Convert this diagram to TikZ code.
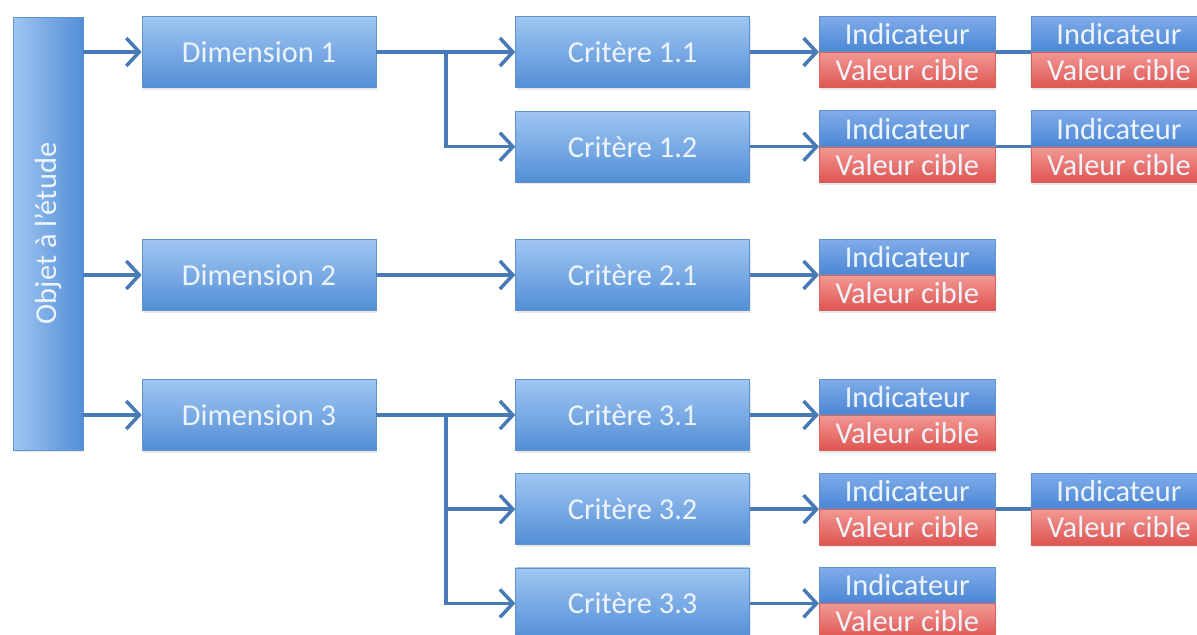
\documentclass[tikz,border=0pt]{standalone}
\usepackage{fontspec}
\usepackage{graphicx}
\setmainfont{Carlito}
\usetikzlibrary{positioning, arrows.meta, calc, shadows}

\definecolor{boxtop}{RGB}{160,198,242}
\definecolor{boxbot}{RGB}{82,142,214}
\definecolor{boxedge}{RGB}{96,146,204}
\definecolor{indtop}{RGB}{128,172,234}
\definecolor{indbot}{RGB}{74,134,212}
\definecolor{redtop}{RGB}{243,152,147}
\definecolor{redbot}{RGB}{222,84,80}
\definecolor{rededge}{RGB}{214,96,92}
\definecolor{linkblue}{RGB}{72,122,182}
\definecolor{boxtext}{RGB}{238,244,251}

\begin{document}
\begin{tikzpicture}[
    x=0.02cm, y=-0.02cm,
    every node/.style={font=\fontsize{17.3}{20}\selectfont, text=boxtext},
    block/.style={
        rectangle,
        draw=boxedge,
        line width=0.4pt,
        top color=boxtop,
        bottom color=boxbot,
        minimum width=4.68cm,
        minimum height=1.42cm,
        inner sep=0pt,
        align=center,
        drop shadow={opacity=0.18, shadow xshift=0.6pt, shadow yshift=-1.2pt}
    },
    indic/.style={
        block,
        top color=indtop,
        bottom color=indbot,
        minimum width=3.52cm,
        minimum height=0.71cm
    },
    target/.style={
        indic,
        draw=rededge,
        top color=redtop,
        bottom color=redbot
    },
    arrow/.style={
        -{Straight Barb[length=2.6mm, width=5.6mm]},
        line width=2pt,
        color=linkblue
    },
    link/.style={
        line width=2pt,
        color=linkblue
    }
]

\path[use as bounding box, clip] (0,0) rectangle (1197,635);

% Object of the study
\node[block, minimum width=1.4cm, minimum height=8.66cm,
      left color=boxtop, right color=boxbot] (objet) at (48,233.5)
    {\rotatebox{90}{Objet à l'étude}};

% Dimensions
\node[block] (dim1) at (259,52) {Dimension 1};
\node[block] (dim2) at (259,275) {Dimension 2};
\node[block] (dim3) at (259,415) {Dimension 3};

% Criteria
\node[block, right=2.78cm of dim1] (crit11) {Critère 1.1};
\node[block, below=0.46cm of crit11] (crit12) {Critère 1.2};
\node[block, right=2.78cm of dim2] (crit21) {Critère 2.1};
\node[block, right=2.78cm of dim3] (crit31) {Critère 3.1};
\node[block, below=0.45cm of crit31] (crit32) {Critère 3.2};
\node[block, below=0.45cm of crit32] (crit33) {Critère 3.3};

% Indicators and target values
\node[indic, above right=0cm and 1.38cm of crit11.east] (ind11) {Indicateur};
\node[target, below=0cm of ind11] (val11) {Valeur cible};
\node[indic, right=0.7cm of ind11] (ind11b) {Indicateur};
\node[target, below=0cm of ind11b] (val11b) {Valeur cible};

\node[indic, above right=0cm and 1.38cm of crit12.east] (ind12) {Indicateur};
\node[target, below=0cm of ind12] (val12) {Valeur cible};
\node[indic, right=0.7cm of ind12] (ind12b) {Indicateur};
\node[target, below=0cm of ind12b] (val12b) {Valeur cible};

\node[indic, above right=0cm and 1.38cm of crit21.east] (ind21) {Indicateur};
\node[target, below=0cm of ind21] (val21) {Valeur cible};

\node[indic, above right=0cm and 1.38cm of crit31.east] (ind31) {Indicateur};
\node[target, below=0cm of ind31] (val31) {Valeur cible};

\node[indic, above right=0cm and 1.38cm of crit32.east] (ind32) {Indicateur};
\node[target, below=0cm of ind32] (val32) {Valeur cible};
\node[indic, right=0.7cm of ind32] (ind32b) {Indicateur};
\node[target, below=0cm of ind32b] (val32b) {Valeur cible};

\node[indic, above right=0cm and 1.38cm of crit33.east] (ind33) {Indicateur};
\node[target, below=0cm of ind33] (val33) {Valeur cible};

% Object to dimensions
\draw[arrow] (objet.east |- dim1.west) -- (dim1.west);
\draw[arrow] (objet.east |- dim2.west) -- (dim2.west);
\draw[arrow] (objet.east |- dim3.west) -- (dim3.west);

% Dimensions to criteria
\coordinate (fork1) at ($(dim1.east)!0.5!(crit11.west)$);
\coordinate (fork3) at ($(dim3.east)!0.5!(crit31.west)$);
\draw[arrow] (dim1.east) -- (crit11.west);
\draw[arrow] (fork1) |- (crit12.west);
\draw[arrow] (dim2.east) -- (crit21.west);
\draw[arrow] (dim3.east) -- (crit31.west);
\draw[arrow] (fork3) |- (crit32.west);
\draw[arrow] (fork3) |- (crit33.west);

% Criteria to indicators
\draw[arrow] (crit11.east) -- (ind11.south west);
\draw[arrow] (crit12.east) -- (ind12.south west);
\draw[arrow] (crit21.east) -- (ind21.south west);
\draw[arrow] (crit31.east) -- (ind31.south west);
\draw[arrow] (crit32.east) -- (ind32.south west);
\draw[arrow] (crit33.east) -- (ind33.south west);

% Indicator chains
\draw[link] (ind11.south east) -- (ind11b.south west);
\draw[link] (ind12.south east) -- (ind12b.south west);
\draw[link] (ind32.south east) -- (ind32b.south west);

\end{tikzpicture}
\end{document}
